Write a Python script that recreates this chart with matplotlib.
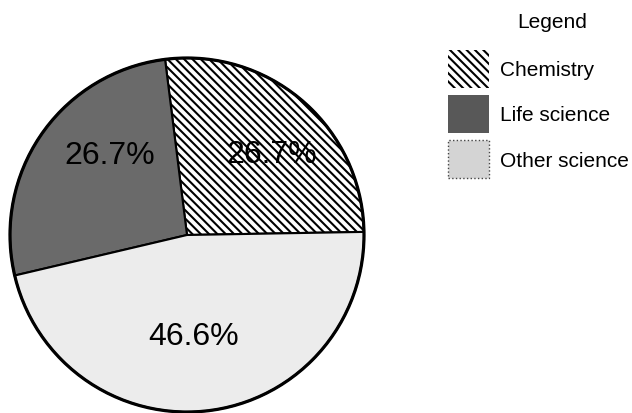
import matplotlib.pyplot as plt
from matplotlib.patches import Patch, Circle

categories = ["Chemistry", "Life science", "Other science"]
shares = [26.7, 26.7, 46.6]
face_colors = ["white", "#6a6a6a", "#ececec"]
legend_colors = ["white", "#585858", "#d4d4d4"]
hatches = ["\\\\\\\\", None, None]

plt.rcParams['font.family'] = ['Liberation Sans', 'DejaVu Sans']
plt.rcParams['hatch.linewidth'] = 1.5

W, H = 632, 414
fig = plt.figure(figsize=(W / 100, H / 100), dpi=100)
ax = fig.add_axes([0, 0, 1, 1])

# pie centre and radius in pixels (from top-left)
cx, cy, r = 187, 236, 177

wedges, texts, autotexts = ax.pie(
    shares, colors=face_colors, startangle=1, counterclock=True,
    autopct='%1.1f%%', pctdistance=0.63,
    wedgeprops=dict(edgecolor='black', linewidth=1.5),
    textprops=dict(fontsize=23, color='black'))
for w, h in zip(wedges, hatches):
    if h:
        w.set_hatch(h)

# nudge the percentage labels to where they sit in the original
label_px = [(272, 155), (110, 156), (194, 337)]
for t, (px, py) in zip(autotexts, label_px):
    t.set_position(((px - cx) / r, (cy - py) / r))

ax.add_patch(Circle((0, 0), 1, fill=False, edgecolor='black', linewidth=2.3))

ax.set_aspect('auto')
ax.set_xlim(-cx / r, (W - cx) / r)
ax.set_ylim(-(H - cy) / r, cy / r)
ax.axis('off')

handles = [
    Patch(facecolor=legend_colors[0], edgecolor='black', hatch=hatches[0], linewidth=0),
    Patch(facecolor=legend_colors[1], edgecolor='none'),
    Patch(facecolor=legend_colors[2], edgecolor='#444444', linestyle=':', linewidth=1),
]
fig.text(552 / W, 1 - 23 / H, "Legend", fontsize=15, ha='center', va='center')
fig.legend(handles, categories, loc='upper left',
           bbox_to_anchor=(448 / W, 1 - 51 / H), frameon=False, fontsize=15,
           handlelength=1.97, handleheight=2.43, labelspacing=0.34,
           handletextpad=0.53, borderpad=0, borderaxespad=0)

fig.savefig("out.png", dpi=100, facecolor='white')
